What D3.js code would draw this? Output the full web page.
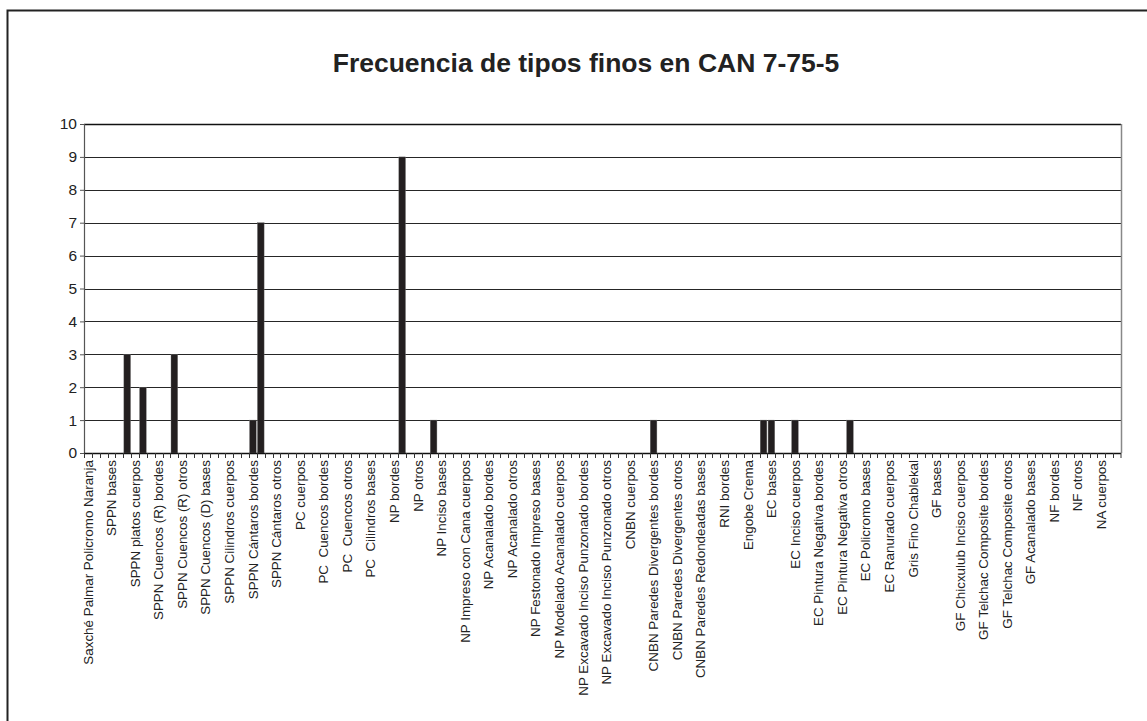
<!DOCTYPE html>
<html>
<head>
<meta charset="utf-8">
<script src="https://cdn.jsdelivr.net/npm/d3@7"></script>
<style>
  body { margin: 0; background: #fff; }
  svg { display: block; font-family: "Liberation Sans", Arial, sans-serif; }
</style>
</head>
<body>
<div id="chart"></div>
<script>
// categories (only every third one gets a visible label, like the original)
var categories = [
    "Saxché Palmar Policromo Naranja", "SPPN bordes", "SPPN cuerpos", "SPPN bases", "SPPN otros",
    "SPPN platos bordes", "SPPN platos cuerpos", "SPPN platos bases", "SPPN platos otros",
    "SPPN Cuencos (R) bordes", "SPPN Cuencos (R) cuerpos", "SPPN Cuencos (R) bases", "SPPN Cuencos (R) otros",
    "SPPN Cuencos (D) bordes", "SPPN Cuencos (D) cuerpos", "SPPN Cuencos (D) bases", "SPPN Cuencos (D) otros",
    "SPPN Cilindros bordes", "SPPN Cilindros cuerpos", "SPPN Cilindros bases", "SPPN Cilindros otros",
    "SPPN Cántaros bordes", "SPPN Cántaros cuerpos", "SPPN Cántaros bases", "SPPN Cántaros otros",
    "PC", "PC bordes", "PC cuerpos", "PC bases", "PC otros",
    "PC  Cuencos bordes", "PC  Cuencos cuerpos", "PC  Cuencos bases", "PC  Cuencos otros",
    "PC  Cilindros bordes", "PC  Cilindros cuerpos", "PC  Cilindros bases", "PC  Cilindros otros",
    "NP", "NP bordes", "NP cuerpos", "NP bases", "NP otros",
    "NP Inciso bordes", "NP Inciso cuerpos", "NP Inciso bases", "NP Inciso otros",
    "NP Impreso con Cana bordes", "NP Impreso con Cana cuerpos", "NP Impreso con Cana bases", "NP Impreso con Cana otros",
    "NP Acanalado bordes", "NP Acanalado cuerpos", "NP Acanalado bases", "NP Acanalado otros",
    "NP Festonado Impreso bordes", "NP Festonado Impreso cuerpos", "NP Festonado Impreso bases", "NP Festonado Impreso otros",
    "NP Modelado Acanalado bordes", "NP Modelado Acanalado cuerpos", "NP Modelado Acanalado bases", "NP Modelado Acanalado otros",
    "NP Excavado Inciso Punzonado bordes", "NP Excavado Inciso Punzonado cuerpos", "NP Excavado Inciso Punzonado bases", "NP Excavado Inciso Punzonado otros",
    "CNBN", "CNBN bordes", "CNBN cuerpos", "CNBN bases", "CNBN otros",
    "CNBN Paredes Divergentes bordes", "CNBN Paredes Divergentes cuerpos", "CNBN Paredes Divergentes bases", "CNBN Paredes Divergentes otros",
    "CNBN Paredes Redondeadas bordes", "CNBN Paredes Redondeadas cuerpos", "CNBN Paredes Redondeadas bases", "CNBN Paredes Redondeadas otros",
    "RNI", "RNI bordes", "RNI cuerpos", "RNI bases",
    "Engobe Crema", "EC bordes", "EC cuerpos", "EC bases", "EC otros",
    "EC Inciso bordes", "EC Inciso cuerpos", "EC Inciso bases", "EC Inciso otros",
    "EC Pintura Negativa bordes", "EC Pintura Negativa cuerpos", "EC Pintura Negativa bases", "EC Pintura Negativa otros",
    "EC Policromo bordes", "EC Policromo cuerpos", "EC Policromo bases", "EC Policromo otros",
    "EC Ranurado bordes", "EC Ranurado cuerpos", "EC Ranurado bases", "EC Ranurado otros",
    "Gris Fino Chablekal", "GF bordes", "GF cuerpos", "GF bases", "GF otros",
    "GF Chicxulub Inciso bordes", "GF Chicxulub Inciso cuerpos", "GF Chicxulub Inciso bases", "GF Chicxulub Inciso otros",
    "GF Telchac Composite bordes", "GF Telchac Composite cuerpos", "GF Telchac Composite bases", "GF Telchac Composite otros",
    "GF Acanalado bordes", "GF Acanalado cuerpos", "GF Acanalado bases", "GF Acanalado otros",
    "NF", "NF bordes", "NF cuerpos", "NF bases", "NF otros",
    "NA", "NA bordes", "NA cuerpos", "NA bases", "NA otros"
];

// frecuencias, one per category
var values = [
    0, 0, 0, 0, 0, 3, 0, 2, 0, 0,
    0, 3, 0, 0, 0, 0, 0, 0, 0, 0,
    0, 1, 7, 0, 0, 0, 0, 0, 0, 0,
    0, 0, 0, 0, 0, 0, 0, 0, 0, 0,
    9, 0, 0, 0, 1, 0, 0, 0, 0, 0,
    0, 0, 0, 0, 0, 0, 0, 0, 0, 0,
    0, 0, 0, 0, 0, 0, 0, 0, 0, 0,
    0, 0, 1, 0, 0, 0, 0, 0, 0, 0,
    0, 0, 0, 0, 0, 0, 1, 1, 0, 0,
    1, 0, 0, 0, 0, 0, 0, 1, 0, 0,
    0, 0, 0, 0, 0, 0, 0, 0, 0, 0,
    0, 0, 0, 0, 0, 0, 0, 0, 0, 0,
    0, 0, 0, 0, 0, 0, 0, 0, 0, 0,
    0, 0
];

var yTicks = [0, 1, 2, 3, 4, 5, 6, 7, 8, 9, 10];
var title = "Frecuencia de tipos finos en CAN 7-75-5";

var data = categories.map(function (c, i) { return {cat: c, value: values[i]}; });

var W = 1147, H = 721;
var margin = {top: 124, right: 26, bottom: 268, left: 84},
    width = W - margin.left - margin.right,
    height = H - margin.top - margin.bottom;

var svg = d3.select('#chart')
    .append('svg')
    .attr('width', W)
    .attr('height', H);

// outer frame (cut off at the right and bottom like the original)
svg.append('rect')
    .attr('x', 7.5)
    .attr('y', 10.5)
    .attr('width', 1200)
    .attr('height', 800)
    .attr('fill', 'none')
    .attr('stroke', '#222')
    .attr('stroke-width', 2);

// title
svg.append('text')
    .attr('x', 586)
    .attr('y', 72)
    .attr('text-anchor', 'middle')
    .style('font-size', '26.5px')
    .style('font-weight', 'bold')
    .attr('fill', '#222')
    .text(title);

var g = svg.append('g')
    .attr('transform', 'translate(' + margin.left + ',' + margin.top + ')');

// Scales
var xCat = d3.scaleBand()
    .domain(categories)
    .range([0, width])
    .padding(0);
var x = d3.scaleBand()
    .domain(categories)
    .range([0, width])
    .paddingInner(0.15)
    .paddingOuter(0.075);
var y = d3.scaleLinear()
    .domain([0, 10])
    .range([height, 0]);

// gridlines
g.selectAll('.grid')
    .data(yTicks.filter(function (d) { return d > 0; }))
    .enter().append('line')
    .attr('class', 'grid')
    .attr('x1', 0)
    .attr('x2', width)
    .attr('y1', function (d) { return Math.round(y(d)) + 0.5; })
    .attr('y2', function (d) { return Math.round(y(d)) + 0.5; })
    .attr('stroke', function (d) { return d === 10 ? '#111' : '#262626'; })
    .attr('stroke-width', function (d) { return d === 10 ? 1.6 : 1; });

// right border of the plot area
g.append('line')
    .attr('x1', width + 0.5)
    .attr('x2', width + 0.5)
    .attr('y1', y(10))
    .attr('y2', y(0))
    .attr('stroke', '#888')
    .attr('stroke-width', 1.5);

// bars
g.selectAll('.bar')
    .data(data.filter(function (d) { return d.value > 0; }))
    .enter().append('rect')
    .attr('class', 'bar')
    .attr('x', function (d) { return x(d.cat); })
    .attr('width', x.bandwidth())
    .attr('y', function (d) { return y(d.value); })
    .attr('height', function (d) { return y(0) - y(d.value); })
    .attr('fill', '#231f20')
    .attr('stroke', '#777')
    .attr('stroke-width', 0.4);

// Y-axis
var yAxis = d3.axisLeft(y)
    .tickValues(yTicks)
    .tickSize(4)
    .tickPadding(3)
    .tickFormat(d3.format('d'));
var gy = g.append('g')
    .call(yAxis);
gy.select('.domain').attr('stroke', '#555').attr('stroke-width', 1.2);
gy.selectAll('.tick line').attr('stroke', '#555');
gy.selectAll('.tick text')
    .style('font-size', '15.5px')
    .style('font-family', '"Liberation Sans", Arial, sans-serif')
    .attr('fill', '#222');

// X-axis: a tick at every category boundary, a label on every third category
var gx = g.append('g')
    .attr('transform', 'translate(0,' + height + ')');
gx.append('line')
    .attr('x1', 0)
    .attr('x2', width)
    .attr('y1', 0.5)
    .attr('y2', 0.5)
    .attr('stroke', '#111')
    .attr('stroke-width', 1.3);
gx.selectAll('.cattick')
    .data(categories.concat(['__end']))
    .enter().append('line')
    .attr('class', 'cattick')
    .attr('x1', function (d) { return d === '__end' ? width : Math.round(xCat(d)) + 0.5; })
    .attr('x2', function (d) { return d === '__end' ? width : Math.round(xCat(d)) + 0.5; })
    .attr('y1', 0)
    .attr('y2', 5)
    .attr('stroke', '#333');

var xAxis = d3.axisBottom(xCat)
    .tickValues(categories.filter(function (d, i) { return i % 3 === 0; }))
    .tickSize(0);
var gxl = gx.append('g').call(xAxis);
gxl.select('.domain').remove();
gxl.selectAll('.tick text')
    .attr('transform', 'rotate(-90)')
    .attr('x', -7)
    .attr('y', 0)
    .attr('dy', '.35em')
    .style('text-anchor', 'end')
    .style('white-space', 'pre')
    .style('font-size', '13.4px')
    .style('font-family', '"Liberation Sans", Arial, sans-serif')
    .attr('fill', '#222');
</script>
</body>
</html>
